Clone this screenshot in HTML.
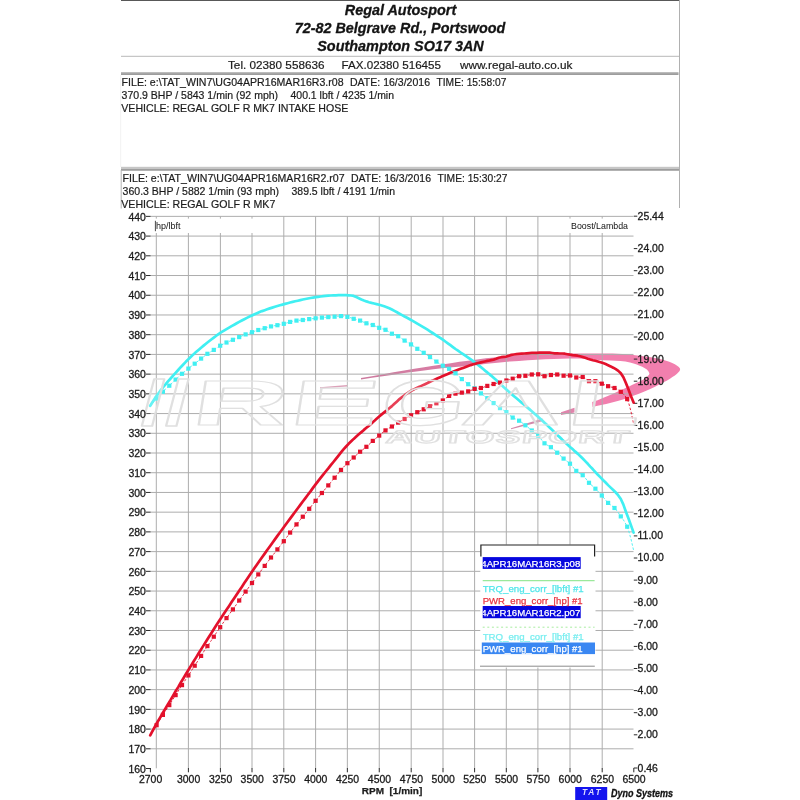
<!DOCTYPE html>
<html><head><meta charset="utf-8"><title>Regal Autosport dyno</title>
<style>
html,body{margin:0;padding:0;background:#fff;}
body{width:800px;height:800px;overflow:hidden;font-family:"Liberation Sans",sans-serif;}
svg{display:block;}
</style></head><body>
<svg width="800" height="800" viewBox="0 0 800 800">
<rect width="800" height="800" fill="#fff"/>
<defs><linearGradient id="sg" gradientUnits="userSpaceOnUse" x1="361" y1="0" x2="560" y2="0"><stop offset="0" stop-color="#cc7a9e"/><stop offset="0.55" stop-color="#dd7ea6"/><stop offset="1" stop-color="#f27fae"/></linearGradient></defs>
<g id="swoosh" fill="url(#sg)">
<path d="M320,387.2 L347,385 L347,386.5 L320,388.4 Z" fill="#d48ba8"/>
<path d="M361,378.1 C390,372.8 420,367.8 442,364.5 C465,361 490,357.6 510,355.8 C535,353.8 560,353.4 579,353.5 L612.5,353.6 C625,353.9 640,355.4 659.75,358.9 C668,360.6 678,364.5 680,368.5 C680.5,370.5 679,372 677,373.75 C672,378 662,383.5 654.5,386.9 C645,391.2 632,396.6 621.25,400 C612,402.8 600,405.4 592.4,407 L592,402 C600,399.5 606,396.5 612.5,393.9 C620,390.6 626,387.8 630,386 C637,382.8 641,380.8 644,379 C647.5,376.8 650,374.8 649.25,372.9 C648.5,370.5 646,368.6 642.25,366.75 C639,365.2 635,363.6 630,362.4 C624,361.2 617,360.7 610.75,360.6 C600,360.2 590,359 579,358.4 C560,358.3 535,359.4 510,361.5 C490,363.4 470,365.8 442,368.2 C420,370.6 390,375 361,379.5 Z"/>
<path d="M511,428.3 L542.5,418.6 L542.5,421.2 L511,429.3 Z" fill="#d489ab"/>
<path d="M561,412.2 L574.5,407.8 L574.5,412.4 L561,415 Z" fill="#e084ac"/>
</g>
<g stroke="#adadad" stroke-width="1" fill="none"><line x1="150.5" y1="748.81" x2="633.5" y2="748.81"/><line x1="150.5" y1="729.09" x2="633.5" y2="729.09"/><line x1="150.5" y1="709.37" x2="633.5" y2="709.37"/><line x1="150.5" y1="689.65" x2="633.5" y2="689.65"/><line x1="150.5" y1="669.93" x2="633.5" y2="669.93"/><line x1="150.5" y1="650.21" x2="633.5" y2="650.21"/><line x1="150.5" y1="630.49" x2="633.5" y2="630.49"/><line x1="150.5" y1="610.77" x2="633.5" y2="610.77"/><line x1="150.5" y1="591.05" x2="633.5" y2="591.05"/><line x1="150.5" y1="571.33" x2="633.5" y2="571.33"/><line x1="150.5" y1="551.61" x2="633.5" y2="551.61"/><line x1="150.5" y1="531.89" x2="633.5" y2="531.89"/><line x1="150.5" y1="512.17" x2="633.5" y2="512.17"/><line x1="150.5" y1="492.45" x2="633.5" y2="492.45"/><line x1="150.5" y1="472.73" x2="633.5" y2="472.73"/><line x1="150.5" y1="453.01" x2="633.5" y2="453.01"/><line x1="150.5" y1="433.29" x2="633.5" y2="433.29"/><line x1="150.5" y1="413.57" x2="633.5" y2="413.57"/><line x1="150.5" y1="393.85" x2="633.5" y2="393.85"/><line x1="150.5" y1="374.13" x2="633.5" y2="374.13"/><line x1="150.5" y1="354.41" x2="633.5" y2="354.41"/><line x1="150.5" y1="334.69" x2="633.5" y2="334.69"/><line x1="150.5" y1="314.97" x2="633.5" y2="314.97"/><line x1="150.5" y1="295.25" x2="633.5" y2="295.25"/><line x1="150.5" y1="275.53" x2="633.5" y2="275.53"/><line x1="150.5" y1="255.81" x2="633.5" y2="255.81"/><line x1="150.5" y1="236.09" x2="633.5" y2="236.09"/><line x1="150.5" y1="216.37" x2="633.5" y2="216.37"/><line x1="156.30" y1="216.4" x2="156.30" y2="768.3"/><line x1="188.40" y1="216.4" x2="188.40" y2="768.3"/><line x1="220.40" y1="216.4" x2="220.40" y2="768.3"/><line x1="252.00" y1="216.4" x2="252.00" y2="768.3"/><line x1="283.80" y1="216.4" x2="283.80" y2="768.3"/><line x1="315.60" y1="216.4" x2="315.60" y2="768.3"/><line x1="347.35" y1="216.4" x2="347.35" y2="768.3"/><line x1="379.25" y1="216.4" x2="379.25" y2="768.3"/><line x1="411.20" y1="216.4" x2="411.20" y2="768.3"/><line x1="443.00" y1="216.4" x2="443.00" y2="768.3"/><line x1="474.60" y1="216.4" x2="474.60" y2="768.3"/><line x1="506.30" y1="216.4" x2="506.30" y2="768.3"/><line x1="537.90" y1="216.4" x2="537.90" y2="768.3"/><line x1="570.00" y1="216.4" x2="570.00" y2="768.3"/><line x1="602.20" y1="216.4" x2="602.20" y2="768.3"/></g>
<rect x="154.6" y="218.6" width="116" height="14.4" fill="#fff"/><rect x="565" y="218.6" width="69" height="14.4" fill="#fff"/>
<g stroke="#2a2a2a" stroke-width="1" fill="none"><line x1="146" y1="768.53" x2="150.6" y2="768.53"/><line x1="146" y1="748.81" x2="150.6" y2="748.81"/><line x1="146" y1="729.09" x2="150.6" y2="729.09"/><line x1="146" y1="709.37" x2="150.6" y2="709.37"/><line x1="146" y1="689.65" x2="150.6" y2="689.65"/><line x1="146" y1="669.93" x2="150.6" y2="669.93"/><line x1="146" y1="650.21" x2="150.6" y2="650.21"/><line x1="146" y1="630.49" x2="150.6" y2="630.49"/><line x1="146" y1="610.77" x2="150.6" y2="610.77"/><line x1="146" y1="591.05" x2="150.6" y2="591.05"/><line x1="146" y1="571.33" x2="150.6" y2="571.33"/><line x1="146" y1="551.61" x2="150.6" y2="551.61"/><line x1="146" y1="531.89" x2="150.6" y2="531.89"/><line x1="146" y1="512.17" x2="150.6" y2="512.17"/><line x1="146" y1="492.45" x2="150.6" y2="492.45"/><line x1="146" y1="472.73" x2="150.6" y2="472.73"/><line x1="146" y1="453.01" x2="150.6" y2="453.01"/><line x1="146" y1="433.29" x2="150.6" y2="433.29"/><line x1="146" y1="413.57" x2="150.6" y2="413.57"/><line x1="146" y1="393.85" x2="150.6" y2="393.85"/><line x1="146" y1="374.13" x2="150.6" y2="374.13"/><line x1="146" y1="354.41" x2="150.6" y2="354.41"/><line x1="146" y1="334.69" x2="150.6" y2="334.69"/><line x1="146" y1="314.97" x2="150.6" y2="314.97"/><line x1="146" y1="295.25" x2="150.6" y2="295.25"/><line x1="146" y1="275.53" x2="150.6" y2="275.53"/><line x1="146" y1="255.81" x2="150.6" y2="255.81"/><line x1="146" y1="236.09" x2="150.6" y2="236.09"/><line x1="146" y1="216.37" x2="150.6" y2="216.37"/><line x1="150.40" y1="768" x2="150.40" y2="772.3"/><line x1="188.40" y1="768" x2="188.40" y2="772.3"/><line x1="220.40" y1="768" x2="220.40" y2="772.3"/><line x1="252.00" y1="768" x2="252.00" y2="772.3"/><line x1="283.80" y1="768" x2="283.80" y2="772.3"/><line x1="315.60" y1="768" x2="315.60" y2="772.3"/><line x1="347.35" y1="768" x2="347.35" y2="772.3"/><line x1="379.25" y1="768" x2="379.25" y2="772.3"/><line x1="411.20" y1="768" x2="411.20" y2="772.3"/><line x1="443.00" y1="768" x2="443.00" y2="772.3"/><line x1="474.60" y1="768" x2="474.60" y2="772.3"/><line x1="506.30" y1="768" x2="506.30" y2="772.3"/><line x1="537.90" y1="768" x2="537.90" y2="772.3"/><line x1="570.00" y1="768" x2="570.00" y2="772.3"/><line x1="602.20" y1="768" x2="602.20" y2="772.3"/><line x1="633.80" y1="768" x2="633.80" y2="772.3"/><line x1="633.8" y1="216.18" x2="637.3" y2="216.18"/><line x1="633.8" y1="248.60" x2="637.3" y2="248.60"/><line x1="633.8" y1="270.70" x2="637.3" y2="270.70"/><line x1="633.8" y1="292.80" x2="637.3" y2="292.80"/><line x1="633.8" y1="314.90" x2="637.3" y2="314.90"/><line x1="633.8" y1="337.00" x2="637.3" y2="337.00"/><line x1="633.8" y1="359.10" x2="637.3" y2="359.10"/><line x1="633.8" y1="381.20" x2="637.3" y2="381.20"/><line x1="633.8" y1="403.30" x2="637.3" y2="403.30"/><line x1="633.8" y1="425.40" x2="637.3" y2="425.40"/><line x1="633.8" y1="447.50" x2="637.3" y2="447.50"/><line x1="633.8" y1="469.60" x2="637.3" y2="469.60"/><line x1="633.8" y1="491.70" x2="637.3" y2="491.70"/><line x1="633.8" y1="513.80" x2="637.3" y2="513.80"/><line x1="633.8" y1="535.90" x2="637.3" y2="535.90"/><line x1="633.8" y1="558.00" x2="637.3" y2="558.00"/><line x1="633.8" y1="580.10" x2="637.3" y2="580.10"/><line x1="633.8" y1="602.20" x2="637.3" y2="602.20"/><line x1="633.8" y1="624.30" x2="637.3" y2="624.30"/><line x1="633.8" y1="646.40" x2="637.3" y2="646.40"/><line x1="633.8" y1="668.50" x2="637.3" y2="668.50"/><line x1="633.8" y1="690.60" x2="637.3" y2="690.60"/><line x1="633.8" y1="712.70" x2="637.3" y2="712.70"/><line x1="633.8" y1="734.80" x2="637.3" y2="734.80"/><line x1="633.8" y1="768" x2="637.3" y2="768"/></g>
<polyline points="150.2,405.8 152.7,401.7 155.3,397.8 157.8,394.2 160.4,390.7 162.9,387.5 165.5,384.4 168.0,381.4 170.6,378.5 173.1,375.7 175.6,372.9 178.2,370.0 180.7,367.2 183.3,364.5 185.8,361.8 188.4,359.3 190.9,356.8 193.4,354.4 196.0,352.1 198.5,349.9 201.1,347.7 203.6,345.6 206.2,343.5 208.7,341.5 211.3,339.5 213.8,337.6 216.3,335.7 218.9,333.9 221.4,332.2 224.0,330.6 226.5,329.1 229.1,327.6 231.6,326.1 234.2,324.7 236.7,323.3 239.2,321.9 241.8,320.5 244.3,319.2 246.9,317.9 249.4,316.6 252.0,315.4 254.5,314.3 257.0,313.2 259.6,312.1 262.1,311.1 264.7,310.2 267.2,309.3 269.8,308.4 272.3,307.6 274.9,306.8 277.4,306.0 279.9,305.3 282.5,304.6 285.0,303.9 287.6,303.2 290.1,302.5 292.7,301.9 295.2,301.3 297.8,300.7 300.3,300.1 302.8,299.5 305.4,299.0 307.9,298.5 310.5,298.0 313.0,297.6 315.6,297.2 318.1,296.8 320.6,296.5 323.2,296.2 325.7,295.9 328.3,295.7 330.8,295.5 333.4,295.4 335.9,295.3 338.5,295.2 341.0,295.2 343.5,295.2 346.1,295.2 348.6,295.3 351.2,295.5 353.7,295.9 356.3,297.1 358.8,298.3 361.4,299.5 363.9,300.5 366.4,301.4 369.0,302.2 371.5,302.9 374.1,303.5 376.6,304.1 379.2,304.8 381.7,305.5 384.2,306.3 386.8,307.2 389.3,308.2 391.9,309.5 394.4,310.9 397.0,312.3 399.5,313.7 402.1,315.1 404.6,316.5 407.1,317.8 409.7,319.2 412.2,320.6 414.8,322.1 417.3,323.6 419.9,325.1 422.4,326.6 425.0,328.2 427.5,329.7 430.0,331.3 432.6,333.0 435.1,334.6 437.7,336.3 440.2,337.9 442.8,339.7 445.3,341.5 447.8,343.3 450.4,345.2 452.9,347.1 455.5,349.0 458.0,350.7 460.6,352.5 463.1,354.2 465.7,355.9 468.2,357.6 470.7,359.4 473.3,361.2 475.8,363.1 478.4,365.1 480.9,367.1 483.5,369.2 486.0,371.4 488.6,373.5 491.1,375.6 493.6,377.8 496.2,380.1 498.7,382.4 501.3,384.8 503.8,387.2 506.4,389.5 508.9,391.8 511.4,394.0 514.0,396.2 516.5,398.3 519.1,400.5 521.6,402.6 524.2,404.8 526.7,406.9 529.3,409.1 531.8,411.2 534.3,413.4 536.9,415.7 539.4,418.0 542.0,420.3 544.5,422.7 547.1,425.1 549.6,427.6 552.2,430.0 554.7,432.4 557.2,434.9 559.8,437.3 562.3,439.8 564.9,442.2 567.4,444.5 570.0,446.9 572.5,449.1 575.0,451.4 577.6,453.6 580.1,456.0 582.7,458.5 585.2,461.1 587.8,463.8 590.3,466.6 592.9,469.3 595.4,472.1 597.9,474.8 600.5,477.4 603.0,480.0 605.6,482.5 608.1,485.1 610.7,487.6 613.2,490.0 615.8,492.5 618.3,495.4 620.8,499.0 623.4,504.6 625.9,511.8 628.5,518.5 631.0,525.4 633.6,532.6" fill="none" stroke="#40eff2" stroke-width="2.7" stroke-linejoin="round" stroke-linecap="round"/>
<polyline points="150.2,735.4 152.7,730.7 155.3,726.0 157.8,721.5 160.4,717.1 162.9,712.7 165.5,708.4 168.0,704.1 170.6,699.9 173.1,695.6 175.6,691.3 178.2,687.1 180.7,682.8 183.3,678.5 185.8,674.3 188.4,670.0 190.9,665.9 193.4,661.7 196.0,657.6 198.5,653.5 201.1,649.4 203.6,645.4 206.2,641.3 208.7,637.3 211.3,633.2 213.8,629.2 216.3,625.2 218.9,621.3 221.4,617.4 224.0,613.5 226.5,609.7 229.1,605.9 231.6,602.1 234.2,598.3 236.7,594.5 239.2,590.7 241.8,586.9 244.3,583.1 246.9,579.3 249.4,575.6 252.0,571.8 254.5,568.1 257.0,564.5 259.6,560.8 262.1,557.2 264.7,553.6 267.2,550.0 269.8,546.5 272.3,543.0 274.9,539.4 277.4,535.9 279.9,532.5 282.5,529.0 285.0,525.5 287.6,522.0 290.1,518.6 292.7,515.1 295.2,511.7 297.8,508.3 300.3,504.9 302.8,501.5 305.4,498.1 307.9,494.8 310.5,491.4 313.0,487.9 315.6,484.4 318.1,481.1 320.6,477.9 323.2,474.7 325.7,471.5 328.3,468.4 330.8,465.2 333.4,462.0 335.9,458.8 338.5,455.6 341.0,452.4 343.5,449.4 346.1,446.5 348.6,443.8 351.2,441.3 353.7,438.9 356.3,436.6 358.8,434.3 361.4,432.1 363.9,429.9 366.4,427.8 369.0,425.7 371.5,423.4 374.1,421.1 376.6,418.7 379.2,416.5 381.7,414.4 384.2,412.4 386.8,410.4 389.3,408.3 391.9,406.1 394.4,403.7 397.0,401.4 399.5,399.1 402.1,397.1 404.6,395.2 407.1,393.4 409.7,391.7 412.2,390.2 414.8,388.9 417.3,387.7 419.9,386.6 422.4,385.4 425.0,384.2 427.5,383.0 430.0,381.7 432.6,380.6 435.1,379.4 437.7,378.3 440.2,377.2 442.8,376.1 445.3,375.0 447.8,373.9 450.4,372.8 452.9,371.7 455.5,370.7 458.0,369.7 460.6,368.8 463.1,367.9 465.7,366.9 468.2,366.0 470.7,365.1 473.3,364.3 475.8,363.6 478.4,363.0 480.9,362.4 483.5,361.8 486.0,361.2 488.6,360.7 491.1,360.1 493.6,359.6 496.2,358.8 498.7,357.8 501.3,357.2 503.8,356.9 506.4,356.6 508.9,355.7 511.4,354.9 514.0,354.5 516.5,354.2 519.1,353.9 521.6,353.7 524.2,353.5 526.7,353.3 529.3,353.1 531.8,352.9 534.3,352.8 536.9,352.8 539.4,352.7 542.0,352.7 544.5,352.7 547.1,352.7 549.6,352.7 552.2,353.0 554.7,353.3 557.2,353.4 559.8,353.5 562.3,353.5 564.9,353.7 567.4,354.2 570.0,354.7 572.5,355.1 575.0,355.4 577.6,355.7 580.1,356.3 582.7,357.0 585.2,357.8 587.8,358.7 590.3,359.5 592.9,360.2 595.4,360.8 597.9,361.5 600.5,362.2 603.0,363.1 605.6,364.1 608.1,365.2 610.7,366.4 613.2,367.7 615.8,369.2 618.3,370.9 620.8,373.3 623.4,377.3 625.9,383.0 628.5,389.6 631.0,396.3 633.6,402.5" fill="none" stroke="#e3112c" stroke-width="2.7" stroke-linejoin="round" stroke-linecap="round"/>
<polyline points="150.2,406.7 152.7,403.3 155.3,400.2 157.8,397.2 160.4,394.3 162.9,391.7 165.5,389.2 168.0,386.9 170.6,384.5 173.1,382.1 175.6,379.6 178.2,377.3 180.7,375.0 183.3,372.8 185.8,370.6 188.4,368.6 190.9,366.6 193.4,364.7 196.0,362.7 198.5,360.7 201.1,358.6 203.6,356.7 206.2,354.7 208.7,353.0 211.3,351.4 213.8,349.9 216.3,348.2 218.9,346.5 221.4,345.0 224.0,343.7 226.5,342.5 229.1,341.4 231.6,340.4 234.2,339.3 236.7,338.2 239.2,337.1 241.8,336.0 244.3,334.9 246.9,333.9 249.4,333.1 252.0,332.2 254.5,331.3 257.0,330.4 259.6,329.6 262.1,328.9 264.7,328.2 267.2,327.4 269.8,326.7 272.3,326.1 274.9,325.6 277.4,325.2 279.9,324.7 282.5,324.1 285.0,323.5 287.6,322.7 290.1,321.9 292.7,321.3 295.2,320.8 297.8,320.4 300.3,320.2 302.8,320.0 305.4,319.7 307.9,319.3 310.5,319.0 313.0,318.6 315.6,318.3 318.1,318.0 320.6,317.7 323.2,317.5 325.7,317.3 328.3,317.1 330.8,317.0 333.4,316.8 335.9,316.6 338.5,316.3 341.0,316.1 343.5,316.2 346.1,316.6 348.6,317.1 351.2,317.9 353.7,318.8 356.3,319.5 358.8,320.2 361.4,321.1 363.9,322.3 366.4,323.3 369.0,324.0 371.5,324.6 374.1,325.5 376.6,326.7 379.2,327.8 381.7,328.6 384.2,329.4 386.8,330.4 389.3,332.1 391.9,333.7 394.4,334.7 397.0,335.7 399.5,336.9 402.1,338.8 404.6,340.6 407.1,342.1 409.7,343.6 412.2,345.2 414.8,347.0 417.3,348.8 419.9,350.4 422.4,351.9 425.0,353.6 427.5,355.4 430.0,357.1 432.6,358.9 435.1,360.7 437.7,362.5 440.2,364.2 442.8,365.7 445.3,367.0 447.8,368.1 450.4,369.6 452.9,371.4 455.5,373.3 458.0,375.5 460.6,377.9 463.1,380.2 465.7,382.2 468.2,384.2 470.7,385.8 473.3,387.4 475.8,389.2 478.4,391.3 480.9,393.4 483.5,395.4 486.0,397.3 488.6,399.2 491.1,401.1 493.6,403.1 496.2,405.2 498.7,407.2 501.3,408.9 503.8,410.4 506.4,412.1 508.9,414.3 511.4,416.7 514.0,418.3 516.5,419.4 519.1,420.7 521.6,422.4 524.2,424.4 526.7,426.3 529.3,428.4 531.8,430.5 534.3,432.5 536.9,434.5 539.4,437.1 542.0,440.4 544.5,443.3 547.1,445.0 549.6,446.4 552.2,448.2 554.7,450.4 557.2,452.7 559.8,455.1 562.3,457.5 564.9,459.7 567.4,461.6 570.0,463.7 572.5,466.5 575.0,469.6 577.6,471.9 580.1,473.5 582.7,475.2 585.2,477.9 587.8,481.3 590.3,484.1 592.9,486.3 595.4,488.7 597.9,491.3 600.5,494.1 603.0,496.9 605.6,500.1 608.1,502.9 610.7,505.0 613.2,506.8 615.8,509.4 618.3,512.7 620.8,516.4 623.4,519.9 625.9,524.1 628.5,530.1 631.0,539.1 633.6,550.3" fill="none" stroke="#40eff2" stroke-width="0.9" stroke-dasharray="2.5 1.8"/>
<g fill="#40eff2"><rect x="154.5" y="396.5" width="4.2" height="4.2"/><rect x="160.8" y="389.6" width="4.2" height="4.2"/><rect x="167.2" y="383.6" width="4.2" height="4.2"/><rect x="173.5" y="377.5" width="4.2" height="4.2"/><rect x="179.9" y="371.7" width="4.2" height="4.2"/><rect x="186.3" y="366.5" width="4.2" height="4.2"/><rect x="192.6" y="361.6" width="4.2" height="4.2"/><rect x="199.0" y="356.5" width="4.2" height="4.2"/><rect x="205.3" y="351.7" width="4.2" height="4.2"/><rect x="211.7" y="347.8" width="4.2" height="4.2"/><rect x="218.1" y="343.6" width="4.2" height="4.2"/><rect x="224.4" y="340.4" width="4.2" height="4.2"/><rect x="230.8" y="337.7" width="4.2" height="4.2"/><rect x="237.1" y="335.0" width="4.2" height="4.2"/><rect x="243.5" y="332.3" width="4.2" height="4.2"/><rect x="249.9" y="330.1" width="4.2" height="4.2"/><rect x="256.2" y="327.9" width="4.2" height="4.2"/><rect x="262.6" y="326.1" width="4.2" height="4.2"/><rect x="268.9" y="324.3" width="4.2" height="4.2"/><rect x="275.3" y="323.1" width="4.2" height="4.2"/><rect x="281.7" y="321.7" width="4.2" height="4.2"/><rect x="288.0" y="319.8" width="4.2" height="4.2"/><rect x="294.4" y="318.5" width="4.2" height="4.2"/><rect x="300.7" y="317.9" width="4.2" height="4.2"/><rect x="307.1" y="317.0" width="4.2" height="4.2"/><rect x="313.5" y="316.2" width="4.2" height="4.2"/><rect x="319.8" y="315.5" width="4.2" height="4.2"/><rect x="326.2" y="315.0" width="4.2" height="4.2"/><rect x="332.5" y="314.6" width="4.2" height="4.2"/><rect x="338.9" y="314.0" width="4.2" height="4.2"/><rect x="345.3" y="314.8" width="4.2" height="4.2"/><rect x="351.6" y="316.7" width="4.2" height="4.2"/><rect x="358.0" y="318.5" width="4.2" height="4.2"/><rect x="364.3" y="321.2" width="4.2" height="4.2"/><rect x="370.7" y="322.9" width="4.2" height="4.2"/><rect x="377.1" y="325.7" width="4.2" height="4.2"/><rect x="383.4" y="327.7" width="4.2" height="4.2"/><rect x="389.8" y="331.6" width="4.2" height="4.2"/><rect x="396.1" y="334.1" width="4.2" height="4.2"/><rect x="402.5" y="338.5" width="4.2" height="4.2"/><rect x="408.9" y="342.3" width="4.2" height="4.2"/><rect x="415.2" y="346.7" width="4.2" height="4.2"/><rect x="421.6" y="350.7" width="4.2" height="4.2"/><rect x="427.9" y="355.0" width="4.2" height="4.2"/><rect x="434.3" y="359.5" width="4.2" height="4.2"/><rect x="440.7" y="363.6" width="4.2" height="4.2"/><rect x="447.0" y="366.7" width="4.2" height="4.2"/><rect x="453.4" y="371.2" width="4.2" height="4.2"/><rect x="459.7" y="377.0" width="4.2" height="4.2"/><rect x="466.1" y="382.1" width="4.2" height="4.2"/><rect x="472.5" y="386.2" width="4.2" height="4.2"/><rect x="478.8" y="391.3" width="4.2" height="4.2"/><rect x="485.2" y="396.1" width="4.2" height="4.2"/><rect x="491.5" y="401.0" width="4.2" height="4.2"/><rect x="497.9" y="406.0" width="4.2" height="4.2"/><rect x="504.3" y="410.0" width="4.2" height="4.2"/><rect x="510.6" y="415.5" width="4.2" height="4.2"/><rect x="517.0" y="418.6" width="4.2" height="4.2"/><rect x="523.3" y="423.2" width="4.2" height="4.2"/><rect x="529.7" y="428.4" width="4.2" height="4.2"/><rect x="536.1" y="433.6" width="4.2" height="4.2"/><rect x="542.4" y="441.2" width="4.2" height="4.2"/><rect x="548.8" y="445.1" width="4.2" height="4.2"/><rect x="555.1" y="450.6" width="4.2" height="4.2"/><rect x="561.5" y="456.5" width="4.2" height="4.2"/><rect x="567.9" y="461.6" width="4.2" height="4.2"/><rect x="574.2" y="468.8" width="4.2" height="4.2"/><rect x="580.6" y="473.1" width="4.2" height="4.2"/><rect x="586.9" y="480.7" width="4.2" height="4.2"/><rect x="593.3" y="486.6" width="4.2" height="4.2"/><rect x="599.7" y="493.4" width="4.2" height="4.2"/><rect x="606.0" y="500.8" width="4.2" height="4.2"/><rect x="612.4" y="505.9" width="4.2" height="4.2"/><rect x="618.7" y="514.3" width="4.2" height="4.2"/><rect x="625.1" y="524.6" width="4.2" height="4.2"/></g>
<polyline points="150.2,735.8 152.7,731.5 155.3,727.3 157.8,723.1 160.4,719.0 162.9,714.9 165.5,711.0 168.0,707.1 170.6,703.1 173.1,699.1 175.6,695.1 178.2,691.1 180.7,687.1 183.3,683.2 185.8,679.3 188.4,675.4 190.9,671.5 193.4,667.7 196.0,663.8 198.5,659.8 201.1,655.9 203.6,651.9 206.2,648.0 208.7,644.2 211.3,640.5 213.8,636.7 216.3,632.9 218.9,629.1 221.4,625.3 224.0,621.7 226.5,618.1 229.1,614.6 231.6,611.1 234.2,607.6 236.7,604.1 239.2,600.5 241.8,596.9 244.3,593.4 246.9,589.9 249.4,586.5 252.0,583.0 254.5,579.6 257.0,576.1 259.6,572.7 262.1,569.3 264.7,565.9 267.2,562.5 269.8,559.2 272.3,555.9 274.9,552.6 277.4,549.4 279.9,546.2 282.5,542.9 285.0,539.5 287.6,536.1 290.1,532.6 292.7,529.3 295.2,526.0 297.8,522.8 300.3,519.7 302.8,516.7 305.4,513.5 307.9,510.3 310.5,507.2 313.0,504.0 315.6,500.8 318.1,497.7 320.6,494.6 323.2,491.5 325.7,488.4 328.3,485.4 330.8,482.3 333.4,479.3 335.9,476.2 338.5,473.0 341.0,469.9 343.5,467.1 346.1,464.5 348.6,462.0 351.2,459.7 353.7,457.5 356.3,455.1 358.8,452.8 361.4,450.7 363.9,448.8 366.4,446.8 369.0,444.5 371.5,442.1 374.1,439.8 376.6,437.7 379.2,435.6 381.7,433.4 384.2,431.3 386.8,429.5 389.3,428.0 391.9,426.5 394.4,424.9 397.0,423.4 399.5,421.9 402.1,420.4 404.6,419.0 407.1,417.5 409.7,416.0 412.2,414.6 414.8,413.4 417.3,412.2 419.9,411.0 422.4,409.9 425.0,408.7 427.5,407.5 430.0,406.2 432.6,405.0 435.1,403.8 437.7,402.7 440.2,401.7 442.8,400.5 445.3,398.6 447.8,396.7 450.4,395.4 452.9,394.4 455.5,393.6 458.0,393.2 460.6,392.8 463.1,392.4 465.7,392.0 468.2,391.4 470.7,390.5 473.3,389.4 475.8,388.7 478.4,388.4 480.9,388.0 483.5,387.3 486.0,386.3 488.6,385.5 491.1,384.7 493.6,384.0 496.2,383.4 498.7,382.9 501.3,382.2 503.8,381.4 506.4,380.5 508.9,379.8 511.4,379.1 514.0,378.1 516.5,376.9 519.1,376.2 521.6,376.0 524.2,375.9 526.7,375.6 529.3,374.9 531.8,374.5 534.3,374.3 536.9,374.3 539.4,374.5 542.0,375.6 544.5,376.2 547.1,375.9 549.6,375.3 552.2,374.9 554.7,374.6 557.2,374.5 559.8,375.0 562.3,375.6 564.9,375.7 567.4,375.6 570.0,375.5 572.5,376.1 575.0,377.2 577.6,377.5 580.1,377.2 582.7,377.0 585.2,378.2 587.8,380.6 590.3,381.2 592.9,381.2 595.4,381.2 597.9,381.8 600.5,383.1 603.0,384.2 605.6,385.2 608.1,386.2 610.7,386.9 613.2,387.6 615.8,388.5 618.3,390.0 620.8,391.8 623.4,394.0 625.9,397.0 628.5,402.2 631.0,411.6 633.6,424.1" fill="none" stroke="#e3112c" stroke-width="0.9" stroke-dasharray="2.5 1.8"/>
<g fill="#e3112c"><rect x="154.5" y="723.1" width="4.2" height="4.2"/><rect x="160.8" y="712.8" width="4.2" height="4.2"/><rect x="167.2" y="703.0" width="4.2" height="4.2"/><rect x="173.5" y="693.0" width="4.2" height="4.2"/><rect x="179.9" y="683.0" width="4.2" height="4.2"/><rect x="186.3" y="673.3" width="4.2" height="4.2"/><rect x="192.6" y="663.6" width="4.2" height="4.2"/><rect x="199.0" y="653.8" width="4.2" height="4.2"/><rect x="205.3" y="644.0" width="4.2" height="4.2"/><rect x="211.7" y="634.6" width="4.2" height="4.2"/><rect x="218.1" y="625.1" width="4.2" height="4.2"/><rect x="224.4" y="616.0" width="4.2" height="4.2"/><rect x="230.8" y="607.3" width="4.2" height="4.2"/><rect x="237.1" y="598.4" width="4.2" height="4.2"/><rect x="243.5" y="589.5" width="4.2" height="4.2"/><rect x="249.9" y="580.9" width="4.2" height="4.2"/><rect x="256.2" y="572.3" width="4.2" height="4.2"/><rect x="262.6" y="563.8" width="4.2" height="4.2"/><rect x="268.9" y="555.4" width="4.2" height="4.2"/><rect x="275.3" y="547.3" width="4.2" height="4.2"/><rect x="281.7" y="539.1" width="4.2" height="4.2"/><rect x="288.0" y="530.5" width="4.2" height="4.2"/><rect x="294.4" y="522.3" width="4.2" height="4.2"/><rect x="300.7" y="514.6" width="4.2" height="4.2"/><rect x="307.1" y="506.7" width="4.2" height="4.2"/><rect x="313.5" y="498.7" width="4.2" height="4.2"/><rect x="319.8" y="490.9" width="4.2" height="4.2"/><rect x="326.2" y="483.3" width="4.2" height="4.2"/><rect x="332.5" y="475.6" width="4.2" height="4.2"/><rect x="338.9" y="467.8" width="4.2" height="4.2"/><rect x="345.3" y="461.1" width="4.2" height="4.2"/><rect x="351.6" y="455.4" width="4.2" height="4.2"/><rect x="358.0" y="449.6" width="4.2" height="4.2"/><rect x="364.3" y="444.7" width="4.2" height="4.2"/><rect x="370.7" y="438.8" width="4.2" height="4.2"/><rect x="377.1" y="433.5" width="4.2" height="4.2"/><rect x="383.4" y="428.3" width="4.2" height="4.2"/><rect x="389.8" y="424.4" width="4.2" height="4.2"/><rect x="396.1" y="420.5" width="4.2" height="4.2"/><rect x="402.5" y="416.9" width="4.2" height="4.2"/><rect x="408.9" y="413.2" width="4.2" height="4.2"/><rect x="415.2" y="410.1" width="4.2" height="4.2"/><rect x="421.6" y="407.2" width="4.2" height="4.2"/><rect x="427.9" y="404.1" width="4.2" height="4.2"/><rect x="434.3" y="401.2" width="4.2" height="4.2"/><rect x="440.7" y="398.4" width="4.2" height="4.2"/><rect x="447.0" y="393.8" width="4.2" height="4.2"/><rect x="453.4" y="391.5" width="4.2" height="4.2"/><rect x="459.7" y="390.5" width="4.2" height="4.2"/><rect x="466.1" y="389.3" width="4.2" height="4.2"/><rect x="472.5" y="386.8" width="4.2" height="4.2"/><rect x="478.8" y="385.9" width="4.2" height="4.2"/><rect x="485.2" y="383.8" width="4.2" height="4.2"/><rect x="491.5" y="381.9" width="4.2" height="4.2"/><rect x="497.9" y="380.5" width="4.2" height="4.2"/><rect x="504.3" y="378.4" width="4.2" height="4.2"/><rect x="510.6" y="376.6" width="4.2" height="4.2"/><rect x="517.0" y="374.1" width="4.2" height="4.2"/><rect x="523.3" y="373.7" width="4.2" height="4.2"/><rect x="529.7" y="372.4" width="4.2" height="4.2"/><rect x="536.1" y="372.2" width="4.2" height="4.2"/><rect x="542.4" y="374.1" width="4.2" height="4.2"/><rect x="548.8" y="372.9" width="4.2" height="4.2"/><rect x="555.1" y="372.4" width="4.2" height="4.2"/><rect x="561.5" y="373.6" width="4.2" height="4.2"/><rect x="567.9" y="373.4" width="4.2" height="4.2"/><rect x="574.2" y="375.4" width="4.2" height="4.2"/><rect x="580.6" y="374.9" width="4.2" height="4.2"/><rect x="586.9" y="379.1" width="4.2" height="4.2"/><rect x="593.3" y="379.1" width="4.2" height="4.2"/><rect x="599.7" y="381.6" width="4.2" height="4.2"/><rect x="606.0" y="384.1" width="4.2" height="4.2"/><rect x="612.4" y="385.9" width="4.2" height="4.2"/><rect x="618.7" y="389.7" width="4.2" height="4.2"/><rect x="625.1" y="397.0" width="4.2" height="4.2"/></g>
<g id="wm" font-family="'Liberation Sans',sans-serif" font-weight="bold" fill="#ffffff" fill-opacity="0.2" stroke="#e0e0e0" stroke-width="1.9" stroke-linejoin="round">
<text transform="translate(141,425) scale(1.38,1)" font-size="63" style="vector-effect:non-scaling-stroke">//</text>
<text transform="translate(190,425) skewX(-9) scale(2.05,1)" font-size="64" style="vector-effect:non-scaling-stroke">R</text>
<text transform="translate(288,425) skewX(-9) scale(2.05,1)" font-size="64" style="vector-effect:non-scaling-stroke">E</text>
<text transform="translate(379,425) skewX(-9) scale(1.66,1)" font-size="64" style="vector-effect:non-scaling-stroke">G</text>
<text transform="translate(459,425) skewX(-9) scale(2.2,1)" font-size="64" style="vector-effect:non-scaling-stroke">A</text>
<text transform="translate(566,425) skewX(-9) scale(1.85,1)" font-size="64" style="vector-effect:non-scaling-stroke">L</text>
<text transform="translate(385,443) skewX(-9) scale(2.08,1)" font-size="17.8" letter-spacing="0.7" style="vector-effect:non-scaling-stroke">AUTOSPORT</text>
</g>
<g font-family="'Liberation Sans',sans-serif" font-size="10.45" fill="#1a1a1a" stroke="#1a1a1a" stroke-width="0.3"><text x="145.8" y="772.73" text-anchor="end">160</text><text x="145.8" y="753.01" text-anchor="end">170</text><text x="145.8" y="733.29" text-anchor="end">180</text><text x="145.8" y="713.57" text-anchor="end">190</text><text x="145.8" y="693.85" text-anchor="end">200</text><text x="145.8" y="674.13" text-anchor="end">210</text><text x="145.8" y="654.41" text-anchor="end">220</text><text x="145.8" y="634.69" text-anchor="end">230</text><text x="145.8" y="614.97" text-anchor="end">240</text><text x="145.8" y="595.25" text-anchor="end">250</text><text x="145.8" y="575.53" text-anchor="end">260</text><text x="145.8" y="555.81" text-anchor="end">270</text><text x="145.8" y="536.09" text-anchor="end">280</text><text x="145.8" y="516.37" text-anchor="end">290</text><text x="145.8" y="496.65" text-anchor="end">300</text><text x="145.8" y="476.93" text-anchor="end">310</text><text x="145.8" y="457.21" text-anchor="end">320</text><text x="145.8" y="437.49" text-anchor="end">330</text><text x="145.8" y="417.77" text-anchor="end">340</text><text x="145.8" y="398.05" text-anchor="end">350</text><text x="145.8" y="378.33" text-anchor="end">360</text><text x="145.8" y="358.61" text-anchor="end">370</text><text x="145.8" y="338.89" text-anchor="end">380</text><text x="145.8" y="319.17" text-anchor="end">390</text><text x="145.8" y="299.45" text-anchor="end">400</text><text x="145.8" y="279.73" text-anchor="end">410</text><text x="145.8" y="260.01" text-anchor="end">420</text><text x="145.8" y="240.29" text-anchor="end">430</text><text x="145.8" y="220.57" text-anchor="end">440</text><text x="150.60" y="783" text-anchor="middle">2700</text><text x="188.60" y="783" text-anchor="middle">3000</text><text x="220.60" y="783" text-anchor="middle">3250</text><text x="252.20" y="783" text-anchor="middle">3500</text><text x="284.00" y="783" text-anchor="middle">3750</text><text x="315.80" y="783" text-anchor="middle">4000</text><text x="347.55" y="783" text-anchor="middle">4250</text><text x="379.45" y="783" text-anchor="middle">4500</text><text x="411.40" y="783" text-anchor="middle">4750</text><text x="443.20" y="783" text-anchor="middle">5000</text><text x="474.80" y="783" text-anchor="middle">5250</text><text x="506.50" y="783" text-anchor="middle">5500</text><text x="538.10" y="783" text-anchor="middle">5750</text><text x="570.20" y="783" text-anchor="middle">6000</text><text x="602.40" y="783" text-anchor="middle">6250</text><text x="634.00" y="783" text-anchor="middle">6500</text><text x="637.6" y="219.78">25.44</text><text x="637.6" y="252.00">24.00</text><text x="637.6" y="274.10">23.00</text><text x="637.6" y="296.20">22.00</text><text x="637.6" y="318.30">21.00</text><text x="637.6" y="340.40">20.00</text><text x="637.6" y="362.50">19.00</text><text x="637.6" y="384.60">18.00</text><text x="637.6" y="406.70">17.00</text><text x="637.6" y="428.80">16.00</text><text x="637.6" y="450.90">15.00</text><text x="637.6" y="473.00">14.00</text><text x="637.6" y="495.10">13.00</text><text x="637.6" y="517.20">12.00</text><text x="637.6" y="539.30">11.00</text><text x="637.6" y="561.40">10.00</text><text x="637.6" y="583.50">9.00</text><text x="637.6" y="605.60">8.00</text><text x="637.6" y="627.70">7.00</text><text x="637.6" y="649.80">6.00</text><text x="637.6" y="671.90">5.00</text><text x="637.6" y="694.00">4.00</text><text x="637.6" y="716.10">3.00</text><text x="637.6" y="738.20">2.00</text><text x="637.6" y="771.8">0.46</text></g>
<text x="156" y="229.2" font-family="'Liberation Sans',sans-serif" font-size="9.2" fill="#111" textLength="24.5" lengthAdjust="spacingAndGlyphs">hp/lbft</text>
<line x1="155.4" y1="220.8" x2="155.4" y2="231.2" stroke="#333" stroke-width="0.9"/>
<text x="571" y="229" font-family="'Liberation Sans',sans-serif" font-size="9.2" fill="#111" textLength="57" lengthAdjust="spacingAndGlyphs">Boost/Lambda</text>
<text x="361.8" y="794.1" font-family="'Liberation Sans',sans-serif" font-size="9.6" font-weight="bold" fill="#1c1c1c" stroke="#1c1c1c" stroke-width="0.25" textLength="60.5" lengthAdjust="spacingAndGlyphs">RPM&#160; [1/min]</text>
<clipPath id="lc"><rect x="482.7" y="540" width="114" height="130"/></clipPath>
<g font-family="'Liberation Sans',sans-serif" font-size="9.7">
<rect x="480.3" y="544.5" width="115.2" height="123" fill="#fff"/>
<path d="M480.9,556.6 V545 H594.6 V556.6" fill="none" stroke="#222" stroke-width="1.2"/>
<rect x="482.7" y="557.1" width="98" height="11.8" fill="#0606de"/>
<rect x="482.7" y="606" width="98" height="12.2" fill="#0606de"/>
<rect x="481.8" y="642.5" width="113.2" height="11.6" fill="#3a87f2"/>
<line x1="482.7" y1="580.6" x2="594.6" y2="580.6" stroke="#9be89b" stroke-width="1.2"/>
<line x1="482.7" y1="627.2" x2="594.6" y2="627.2" stroke="#a8eca0" stroke-width="1" stroke-dasharray="2 2.6"/>
<line x1="480" y1="666.2" x2="594.8" y2="666.2" stroke="#8c8c8c" stroke-width="1"/>
<g clip-path="url(#lc)" stroke-width="0.25">
<text x="481.3" y="566.6" fill="#fff" stroke="#fff" textLength="99" lengthAdjust="spacingAndGlyphs">4APR16MAR16R3.p08</text>
<text x="482.7" y="591.5" fill="#4fe6ea" stroke="#4fe6ea" textLength="101" lengthAdjust="spacingAndGlyphs">TRQ_eng_corr_[lbft] #1</text>
<text x="482.7" y="603.6" fill="#e8323f" stroke="#e8323f" textLength="100" lengthAdjust="spacingAndGlyphs">PWR_eng_corr_[hp] #1</text>
<text x="481.3" y="615.5" fill="#fff" stroke="#fff" textLength="99" lengthAdjust="spacingAndGlyphs">4APR16MAR16R2.p07</text>
<text x="482.7" y="639.6" fill="#7aeef0" stroke="#7aeef0" textLength="101" lengthAdjust="spacingAndGlyphs">TRQ_eng_corr_[lbft] #1</text>
<text x="482.7" y="652" fill="#fff" stroke="#fff" textLength="100" lengthAdjust="spacingAndGlyphs">PWR_eng_corr_[hp] #1</text>
</g>
</g>
<rect x="575.2" y="787" width="32" height="13" fill="#1414ee"/>
<text x="582" y="795.4" font-family="'Liberation Sans',sans-serif" font-size="8.4" font-weight="bold" font-style="italic" fill="#dcdcff" textLength="18.5" lengthAdjust="spacing">TAT</text>
<text x="611" y="796.8" font-family="'Liberation Sans',sans-serif" font-size="10.2" font-weight="bold" font-style="italic" fill="#111" stroke="#111" stroke-width="0.3" textLength="62" lengthAdjust="spacingAndGlyphs">Dyno Systems</text>
<g fill="none">
<line x1="121" y1="0.4" x2="680" y2="0.4" stroke="#585858" stroke-width="1.2"/>
<line x1="121" y1="56.3" x2="680" y2="56.3" stroke="#b0b0b0" stroke-width="0.9"/>
<rect x="121" y="72" width="557.5" height="1.8" fill="#bcbcbc"/>
<rect x="121" y="73.5" width="557.5" height="1.3" fill="#868686"/>
<rect x="121" y="166.8" width="558" height="2.7" fill="#c6c6c6"/>
<rect x="121" y="169.3" width="558" height="1.3" fill="#808080"/>
<line x1="679.5" y1="0" x2="679.5" y2="208" stroke="#b0b0b0" stroke-width="1"/>
<line x1="120.7" y1="75" x2="120.7" y2="167" stroke="#f2f2f2" stroke-width="1"/><line x1="121.2" y1="170" x2="121.2" y2="208.5" stroke="#b4b4b4" stroke-width="1"/>
</g>
<g font-family="'Liberation Sans',sans-serif" font-weight="bold" font-style="italic" font-size="14.8" fill="#141414" stroke="#141414" stroke-width="0.3" text-anchor="middle">
<text x="400.5" y="15.1" textLength="111.5" lengthAdjust="spacingAndGlyphs">Regal Autosport</text>
<text x="400" y="32.8" textLength="210.5" lengthAdjust="spacingAndGlyphs">72-82 Belgrave Rd., Portswood</text>
<text x="400.5" y="50.9" textLength="166.5" lengthAdjust="spacingAndGlyphs">Southampton SO17 3AN</text>
</g>
<g font-family="'Liberation Sans',sans-serif" font-size="11.7" fill="#1c1c1c" stroke="#1c1c1c" stroke-width="0.2">
<text x="228" y="68.6" textLength="96.5" lengthAdjust="spacingAndGlyphs">Tel. 02380 558636</text>
<text x="341.5" y="68.6" textLength="99.5" lengthAdjust="spacingAndGlyphs">FAX.02380 516455</text>
<text x="460" y="68.6" textLength="112.5" lengthAdjust="spacingAndGlyphs">www.regal-auto.co.uk</text>
</g>
<g font-family="'Liberation Sans',sans-serif" font-size="10.6" fill="#1c1c1c" stroke="#1c1c1c" stroke-width="0.2">
<text x="121.6" y="86" textLength="222" lengthAdjust="spacingAndGlyphs">FILE: e:\TAT_WIN7\UG04APR16MAR16R3.r08</text>
<text x="350" y="86" textLength="80" lengthAdjust="spacingAndGlyphs">DATE: 16/3/2016</text>
<text x="436.5" y="86" textLength="70" lengthAdjust="spacingAndGlyphs">TIME: 15:58:07</text>
<text x="121.6" y="99" textLength="156.5" lengthAdjust="spacingAndGlyphs">370.9 BHP / 5843 1/min (92 mph)</text>
<text x="290.5" y="99" textLength="103.5" lengthAdjust="spacingAndGlyphs">400.1 lbft / 4235 1/min</text>
<text x="121.3" y="112" textLength="227" lengthAdjust="spacingAndGlyphs">VEHICLE: REGAL GOLF R MK7 INTAKE HOSE</text>
<text x="122.6" y="182" textLength="222" lengthAdjust="spacingAndGlyphs">FILE: e:\TAT_WIN7\UG04APR16MAR16R2.r07</text>
<text x="351" y="182" textLength="80" lengthAdjust="spacingAndGlyphs">DATE: 16/3/2016</text>
<text x="437.5" y="182" textLength="70" lengthAdjust="spacingAndGlyphs">TIME: 15:30:27</text>
<text x="122.6" y="195" textLength="156.5" lengthAdjust="spacingAndGlyphs">360.3 BHP / 5882 1/min (93 mph)</text>
<text x="291.5" y="195" textLength="103.5" lengthAdjust="spacingAndGlyphs">389.5 lbft / 4191 1/min</text>
<text x="121.3" y="208" textLength="154" lengthAdjust="spacingAndGlyphs">VEHICLE: REGAL GOLF R MK7</text>
</g>
</svg>
</body></html>
